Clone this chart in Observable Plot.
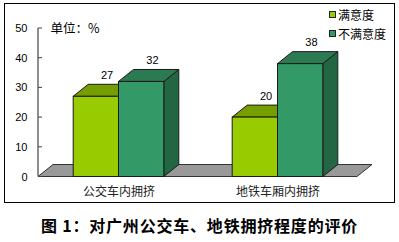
<!DOCTYPE html>
<html><head><meta charset="utf-8">
<script src="https://cdn.jsdelivr.net/npm/d3@7"></script>
<script src="https://cdn.jsdelivr.net/npm/@observablehq/plot@0.6"></script>
<style>
body{margin:0;background:#fff;width:399px;height:242px;position:relative;overflow:hidden}
#chart{position:absolute;left:0;top:0}
#frame{position:absolute;left:4px;top:3px;width:389px;height:198px;border:1px solid #000;pointer-events:none}
#legend{position:absolute;left:329px;top:5px;font:12px "Noto Sans CJK SC";color:#000}
#legend .item{display:flex;align-items:center;height:19px}
#legend .sw{width:5px;height:5px;border:1px solid #222;margin-right:2px}
#caption{position:absolute;left:0;top:217px;width:399px;text-align:center;font:bold 16px/16px "Noto Sans CJK SC";letter-spacing:0.8px;color:#000}
</style></head>
<body>
<div id="chart"></div>
<div id="frame"></div>
<div id="legend"></div>
<div id="caption"></div>
<script>
const categories = ["公交车内拥挤", "地铁车厢内拥挤"];
const seriesNames = ["满意度", "不满意度"];
const satisfied = [27, 20];
const dissatisfied = [32, 38];
const yTicks = [0, 10, 20, 30, 40, 50];
const unitLabel = "单位：%";
const captionText = "图 1：对广州公交车、地铁拥挤程度的评价";

const seriesValues = [satisfied, dissatisfied];
const faceColors = [
  {front: "#99CC00", top: "#779E00", side: "#5C7A00"},
  {front: "#339966", top: "#2B7A52", side: "#226644"}
];
const depth = {dx: 15, dy: -12};
const barFrac = 0.285;

function bars3d(index, scales, values, dimensions) {
  const {x, y} = scales;
  const bw = x.bandwidth();
  const L = dimensions.marginLeft, R = dimensions.width - dimensions.marginRight;
  const y0 = y(0);
  const {dx, dy} = depth;
  const g = d3.create("svg:g");
  // floor
  g.append("polygon")
    .attr("points", [[L, y0], [R, y0], [R + dx, y0 + dy], [L + dx, y0 + dy]].join(" "))
    .attr("fill", "#999999").attr("stroke", "#333").attr("stroke-width", 1);
  // y axis line and ticks
  const yMax = d3.max(yTicks);
  g.append("line").attr("x1", L).attr("x2", L).attr("y1", y(0)).attr("y2", y(yMax))
    .attr("stroke", "#444").attr("stroke-width", 1.2);
  for (const t of yTicks) {
    g.append("line").attr("x1", L).attr("x2", L + 4).attr("y1", y(t)).attr("y2", y(t))
      .attr("stroke", "#444");
  }
  const barW = bw * barFrac;
  categories.forEach((cat, i) => {
    const c = x(cat) + bw / 2;
    seriesValues.forEach((vals, s) => {
      const v = vals[i];
      const left = c - barW + s * barW, right = left + barW;
      const yv = y(v);
      const col = faceColors[s];
      g.append("polygon")
        .attr("points", [[right, yv], [right + dx, yv + dy], [right + dx, y0 + dy], [right, y0]].join(" "))
        .attr("fill", col.side).attr("stroke", "#1a1a1a");
      g.append("polygon")
        .attr("points", [[left, yv], [right, yv], [right + dx, yv + dy], [left + dx, yv + dy]].join(" "))
        .attr("fill", col.top).attr("stroke", "#1a1a1a");
      g.append("rect").attr("x", left).attr("y", yv).attr("width", barW).attr("height", y0 - yv)
        .attr("fill", col.front).attr("stroke", "#1a1a1a");
    });
    seriesValues.forEach((vals, s) => {
      const v = vals[i];
      const left = c - barW + s * barW;
      g.append("text")
        .attr("x", left + barW / 2 + dx * 0.75)
        .attr("y", y(v) + dy - 9)
        .attr("dy", "0.35em")
        .attr("text-anchor", "middle")
        .attr("font-family", "Liberation Sans, Arial, sans-serif")
        .attr("font-size", 11)
        .attr("fill", "#000")
        .text(v);
    });
  });
  return g.node();
}

const plot = Plot.plot({
  width: 399,
  height: 206,
  marginLeft: 38,
  marginRight: 42,
  marginTop: 28,
  marginBottom: 29.5,
  style: {background: "transparent", fontFamily: "Liberation Sans, Arial, sans-serif", fontSize: "11px", color: "#000"},
  x: {type: "band", domain: categories, padding: 0, axis: null},
  y: {domain: [0, d3.max(yTicks)], axis: null},
  marks: [
    bars3d,
    Plot.text(yTicks, {y: d => d, frameAnchor: "left", dx: -11, textAnchor: "end", fontSize: 11, fill: "#000"}),
    Plot.text([unitLabel], {y: () => d3.max(yTicks), frameAnchor: "left", dx: 12, textAnchor: "start",
      fontFamily: "Noto Sans CJK SC", fontSize: 12.5, fill: "#000"}),
    Plot.text(categories, {x: d => d, frameAnchor: "bottom", dy: 15.5, lineAnchor: "middle",
      fontFamily: "Noto Sans CJK SC", fontSize: 12, fill: "#222"})
  ]
});
document.getElementById("chart").appendChild(plot);

const legend = d3.select("#legend");
seriesNames.forEach((name, s) => {
  const item = legend.append("div").attr("class", "item");
  item.append("div").attr("class", "sw").style("background", faceColors[s].front);
  item.append("span").text(name);
});
document.getElementById("caption").textContent = captionText;
</script>
</body></html>
